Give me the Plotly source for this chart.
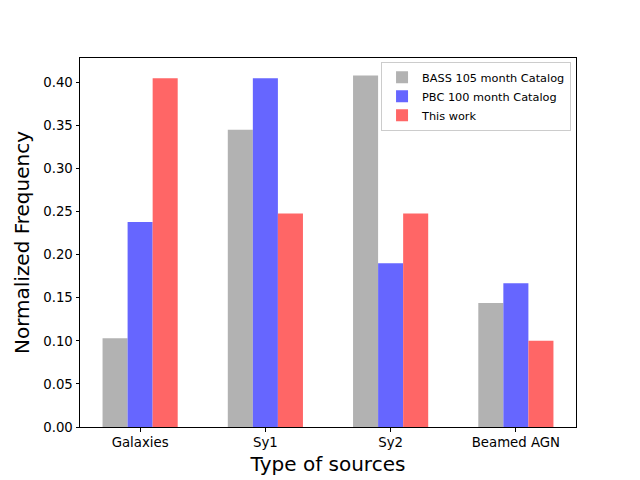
import plotly.graph_objects as go

categories = ["Galaxies", "Sy1", "Sy2", "Beamed AGN"]
bass = [0.103, 0.345, 0.408, 0.144]
pbc = [0.238, 0.405, 0.190, 0.167]
this_work = [0.405, 0.248, 0.248, 0.100]

fig = go.Figure()
fig.add_trace(go.Bar(x=categories, y=bass, name="BASS 105 month Catalog", marker_color="#b2b2b2", marker_line_width=0))
fig.add_trace(go.Bar(x=categories, y=pbc, name="PBC 100 month Catalog", marker_color="#6666ff", marker_line_width=0))
fig.add_trace(go.Bar(x=categories, y=this_work, name="This work", marker_color="#ff6666", marker_line_width=0))

font = "DejaVu Sans"
fig.update_layout(
    width=632, height=472,
    margin=dict(l=72, r=64, t=49.6, b=52.8, pad=0, autoexpand=False),
    paper_bgcolor="white", plot_bgcolor="white",
    barmode="group", bargap=0.4, bargroupgap=0,
    font=dict(family=font, size=13.3, color="black"),
    showlegend=True,
    legend=dict(x=0.99, y=0.99, xanchor="right", yanchor="top",
                bgcolor="rgba(255,255,255,0.8)", bordercolor="#cccccc", borderwidth=1,
                font=dict(family=font, size=11.3, color="black"), tracegroupgap=0,
                itemwidth=30),
)
fig.update_xaxes(
    range=[-0.48, 3.48], showline=True, linecolor="black", linewidth=1, mirror=True,
    ticks="outside", ticklen=3.5, tickcolor="black", showgrid=False, automargin=False,
    title=dict(text="Type of sources", font=dict(family=font, size=20), standoff=7),
)
fig.update_yaxes(
    range=[0, 0.4284], showline=True, linecolor="black", linewidth=1, mirror=True,
    ticks="outside", ticklen=3.5, tickcolor="black", showgrid=False, automargin=False,
    tickmode="array", tickvals=[0, 0.05, 0.1, 0.15, 0.2, 0.25, 0.3, 0.35, 0.4],
    tickformat=".2f", zeroline=False,
    title=dict(text="Normalized Frequency", font=dict(family=font, size=20), standoff=8),
)
fig.write_html("out.html")
